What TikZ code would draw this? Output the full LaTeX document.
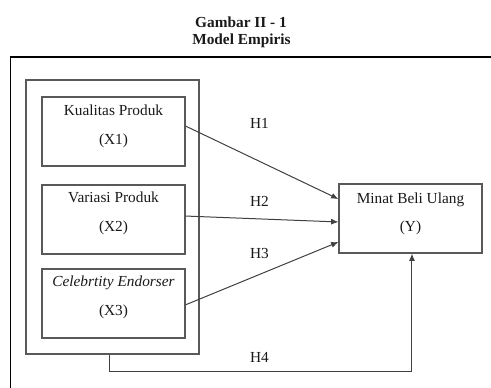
\documentclass[tikz,border=0pt]{standalone}
\usepackage{fontspec}
\setmainfont{Liberation Serif}
\usetikzlibrary{arrows.meta,calc}
\begin{document}
\begin{tikzpicture}[x=0.75pt,y=-0.75pt,
  font=\fontsize{11.5}{13}\selectfont,
  varbox/.style={draw=black!65,line width=0.8pt,minimum width=107.25pt,minimum height=51.75pt,inner sep=0pt},
  grpbox/.style={draw=black!65,line width=0.8pt,minimum width=129.75pt,minimum height=205.5pt,inner sep=0pt},
  txt/.style={anchor=base,inner sep=0pt,text=black!90},
  link/.style={draw=black!75,line width=0.75pt,-{Latex[length=5.5pt,width=4.5pt]}}]
  \useasboundingbox (0,0) rectangle (491,387);
  % title
  \node[txt,font=\fontsize{11.5}{13}\selectfont\bfseries] (t1) at (241,27) {Gambar II - 1};
  \node[txt,font=\fontsize{11.5}{13}\selectfont\bfseries] (t2) at (241.5,44) {Model Empiris};
  % outer frame
  \draw[black,line width=0.8pt] (10.5,390) -- (10.5,57) -- (495,57);
  % independent variables
  \node[grpbox] (G) at (112.5,217) {};
  \node[varbox] (b1) at (113.5,131.5) {};
  \node[varbox] (b2) at (113.5,219.5) {};
  \node[varbox] (b3) at (113.5,303.5) {};
  \node[varbox] (Y) at (410.5,218.5) {};
  \node[txt] (b1a) at ([yshift=-14.2pt]b1.north) {Kualitas Produk};
  \node[txt] (b1b) at ([yshift=-35.8pt]b1.north) {(X1)};
  \node[txt] (b2a) at ([yshift=-13.5pt]b2.north) {Variasi Produk};
  \node[txt] (b2b) at ([yshift=-35.3pt]b2.north) {(X2)};
  \node[txt] (b3a) at ([yshift=-13.5pt]b3.north) {\itshape Celebrtity Endorser};
  \node[txt] (b3b) at ([yshift=-35.3pt]b3.north) {(X3)};
  \node[txt] (Ya) at ([yshift=-15pt]Y.north) {Minat Beli Ulang};
  \node[txt] (Yb) at ([yshift=-36pt]Y.north) {(Y)};
  % hypotheses
  \node[txt] (h1) at (259.5,128) {H1};
  \node[txt] (h2) at (259.5,206) {H2};
  \node[txt] (h3) at (259.5,258) {H3};
  \node[txt] (h4) at (259.5,362) {H4};
  \draw[link] ([yshift=4.1pt]b1.east) -- ([yshift=14.6pt]Y.west);
  \draw[link] ([yshift=2.6pt]b2.east) -- ([yshift=-2.6pt]Y.west);
  \draw[link] ([yshift=-1pt]b3.east) -- ([yshift=-17.6pt]Y.west);
  \coordinate (g0) at ([xshift=-2.6pt]G.south);
  \draw[link] (g0) -- ++(0,17) -| ([xshift=1.1pt]Y.south);
\end{tikzpicture}
\end{document}
